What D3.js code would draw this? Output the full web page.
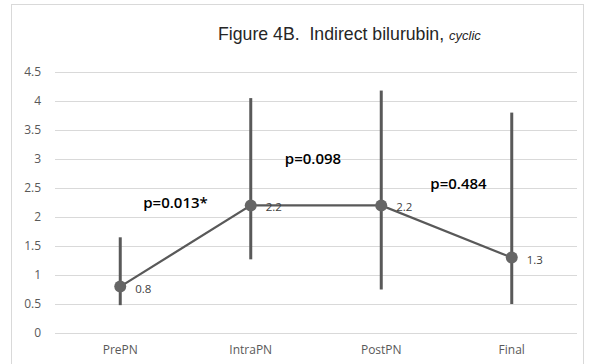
<!DOCTYPE html>
<html>
<head>
  <meta charset="utf-8">
  <title>Figure 4B</title>
  <script src="https://d3js.org/d3.v7.min.js"></script>
  <style>
    body { margin: 0; background: #fff; }
    .axis text { font-family: "Open Sans", sans-serif; font-size: 12px; fill: #595959; }
    .grid line { stroke: #d9d9d9; }
  </style>
</head>
<body>
  <svg id="chart"></svg>

  <script>
    // Data
    const categories = ["PrePN", "IntraPN", "PostPN", "Final"];
    const means = [0.8, 2.2, 2.2, 1.3];
    const lows = [0.48, 1.27, 0.75, 0.5];
    const highs = [1.65, 4.05, 4.18, 3.8];
    const yTicks = [0, 0.5, 1, 1.5, 2, 2.5, 3, 3.5, 4, 4.5];
    const pLabels = ["p=0.013*", "p=0.098", "p=0.484"];

    const width = 598;
    const height = 364;
    const margin = { top: 72, right: 21, bottom: 31, left: 55 };
    const chartWidth = width - margin.left - margin.right;
    const chartHeight = height - margin.top - margin.bottom;

    // where the p-value labels sit: [pixel shift from midpoint, value level]
    const pPlace = [[-10, 2.24], [-3, 3.0], [12, 2.58]];

    const svg = d3.select("#chart")
                  .attr("width", width)
                  .attr("height", height);

    // outer frame
    svg.append("rect")
       .attr("x", 11.5).attr("y", 4.5)
       .attr("width", 572).attr("height", 380)
       .attr("fill", "none")
       .attr("stroke", "#d9d9d9");

    // title
    const title = svg.append("text")
       .attr("x", 218).attr("y", 40)
       .attr("font-family", "Liberation Sans, Arial, sans-serif")
       .attr("font-size", 17.7)
       .attr("fill", "#262626");
    title.append("tspan").text("Figure 4B.\u00a0\u00a0Indirect bilurubin, ");
    title.append("tspan").attr("font-style", "italic").attr("font-size", 13).text("cyclic");

    const chart = svg.append("g")
                     .attr("transform", `translate(${margin.left},${margin.top})`);

    const xScale = d3.scaleBand()
                     .domain(categories)
                     .range([0, chartWidth]);

    const yScale = d3.scaleLinear()
                     .domain([0, 4.5])
                     .range([chartHeight, 0]);

    const cx = (i) => xScale(categories[i]) + xScale.bandwidth() / 2;

    // gridlines
    chart.append("g")
         .attr("class", "grid")
         .call(d3.axisLeft(yScale).tickValues(yTicks).tickSize(-chartWidth).tickFormat(""))
         .call(g => g.select(".domain").remove());

    // y axis labels
    chart.append("g")
         .attr("class", "axis")
         .call(d3.axisLeft(yScale).tickValues(yTicks).tickSize(0).tickPadding(14).tickFormat(d3.format("")))
         .call(g => g.select(".domain").remove());

    // x axis labels
    chart.append("g")
         .attr("class", "axis")
         .attr("transform", `translate(0, ${chartHeight})`)
         .call(d3.axisBottom(xScale).tickSize(0).tickPadding(12))
         .call(g => g.select(".domain").remove());

    // error bars
    chart.selectAll(".err")
         .data(categories)
         .enter()
         .append("line")
         .attr("class", "err")
         .attr("x1", (d, i) => cx(i))
         .attr("x2", (d, i) => cx(i))
         .attr("y1", (d, i) => yScale(lows[i]))
         .attr("y2", (d, i) => yScale(highs[i]))
         .attr("stroke", "#595959")
         .attr("stroke-width", 3);

    // mean line
    const line = d3.line()
                   .x((d, i) => cx(i))
                   .y(d => yScale(d));
    chart.append("path")
         .datum(means)
         .attr("d", line)
         .attr("fill", "none")
         .attr("stroke", "#595959")
         .attr("stroke-width", 2.25);

    // markers
    chart.selectAll(".dot")
         .data(means)
         .enter()
         .append("circle")
         .attr("class", "dot")
         .attr("cx", (d, i) => cx(i))
         .attr("cy", d => yScale(d))
         .attr("r", 6)
         .attr("fill", "#666666");

    // data labels
    chart.selectAll(".val")
         .data(means)
         .enter()
         .append("text")
         .attr("class", "val")
         .attr("x", (d, i) => cx(i) + 15)
         .attr("y", d => yScale(d) + 6)
         .attr("font-family", "'Open Sans', sans-serif")
         .attr("font-size", 11.5)
         .attr("fill", "#404040")
         .text(d => d);

    // p-value labels between categories
    chart.selectAll(".pval")
         .data(pLabels)
         .enter()
         .append("text")
         .attr("class", "pval")
         .attr("x", (d, i) => (cx(i) + cx(i + 1)) / 2 + pPlace[i][0])
         .attr("y", (d, i) => yScale(pPlace[i][1]))
         .attr("dy", "0.35em")
         .attr("text-anchor", "middle")
         .attr("font-family", "'Open Sans', sans-serif")
         .attr("font-size", 15)
         .attr("font-weight", 600)
         .attr("fill", "#000")
         .text(d => d);
  </script>
</body>
</html>
